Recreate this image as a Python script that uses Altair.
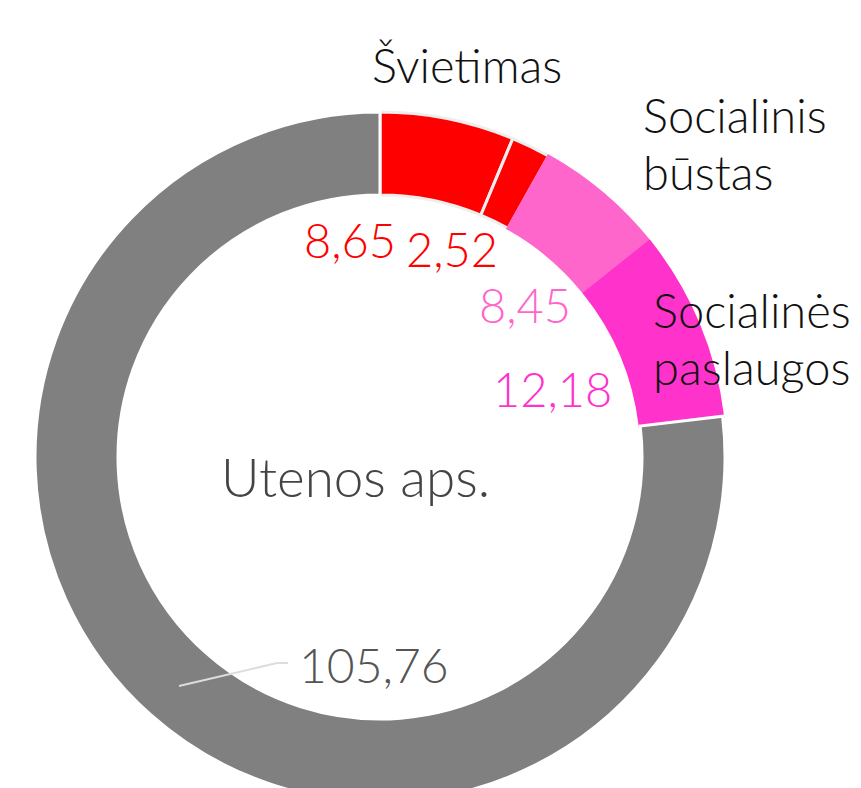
import altair as alt
import pandas as pd

# ---- data ----
categories = ["Švietimas A", "Švietimas B", "Socialinis būstas", "Socialinės paslaugos", "Kita"]
values = [8.65, 2.52, 8.45, 12.18, 105.76]
seg_colors = ["#ff0000", "#ff0000", "#ff66cc", "#ff33cc", "#808080"]
seg_strokes = ["#eeeeee", "#eeeeee", "#ff66cc", "#ff33cc", "#ffffff"]
value_colors = ["#ff0000", "#ff0000", "#ff66cc", "#ff33cc", "#555555"]
center_label = "Utenos aps."
group_labels = ["Švietimas", "Socialinis", "būstas", "Socialinės", "paslaugos"]

# ---- layout ----
CX, CY = 380, 457
R_IN, R_OUT = 262, 345
value_pos = [(304, 258), (406, 267), (479, 323), (493, 407), (299, 683)]
value_sizes = [47, 47, 47, 47, 48]
group_pos = [(372, 83), (643, 133), (643, 190), (653, 328), (653, 385)]
FONT = "Lato"

seg = pd.DataFrame({
    "cat": categories,
    "value": values,
    "idx": list(range(len(values))),
})

arc = alt.Chart(seg).mark_arc(
    innerRadius=R_IN, outerRadius=R_OUT, strokeWidth=3
).encode(
    theta=alt.Theta("value:Q", stack=True, scale=alt.Scale(range=[0, 6.283185307179586])),
    order=alt.Order("idx:Q"),
    color=alt.Color("cat:N", scale=alt.Scale(domain=categories, range=seg_colors), legend=None),
    stroke=alt.Stroke("cat:N", scale=alt.Scale(domain=categories, range=seg_strokes), legend=None),
    x=alt.value(CX),
    y=alt.value(CY),
)

vals = pd.DataFrame({
    "text": [f"{v:.2f}".replace(".", ",") for v in values],
    "x": [p[0] for p in value_pos],
    "y": [p[1] for p in value_pos],
    "color": value_colors,
    "size": value_sizes,
})
val_text = alt.Chart(vals).mark_text(
    align="left", baseline="alphabetic", font=FONT, fontWeight=300
).encode(
    x=alt.X("x:Q", scale=None),
    y=alt.Y("y:Q", scale=None),
    text="text:N",
    color=alt.Color("color:N", scale=None),
    size=alt.Size("size:Q", scale=None),
)

grp = pd.DataFrame({
    "text": group_labels,
    "x": [p[0] for p in group_pos],
    "y": [p[1] for p in group_pos],
})
grp_text = alt.Chart(grp).mark_text(
    align="left", baseline="alphabetic", font=FONT, fontWeight=300, fontSize=47, color="#111111"
).encode(
    x=alt.X("x:Q", scale=None),
    y=alt.Y("y:Q", scale=None),
    text="text:N",
)

center = alt.Chart(pd.DataFrame({"text": [center_label]})).mark_text(
    align="left", baseline="alphabetic", font=FONT, fontWeight=300, fontSize=53, color="#444444"
).encode(
    x=alt.value(221), y=alt.value(497), text="text:N"
)

leader = alt.Chart(pd.DataFrame({
    "x": [179, 277, 288], "y": [686, 663, 663], "o": [0, 1, 2]
})).mark_line(color="#dddddd", strokeWidth=2).encode(
    x=alt.X("x:Q", scale=None),
    y=alt.Y("y:Q", scale=None),
    order="o:Q",
)

chart = alt.layer(arc, leader, val_text, grp_text, center).properties(
    width=861, height=788, padding=0, autosize=alt.AutoSizeParams(type="none")
).configure_view(stroke=None)

chart.save("out.html", embed_options={"renderer": "svg", "actions": False})
